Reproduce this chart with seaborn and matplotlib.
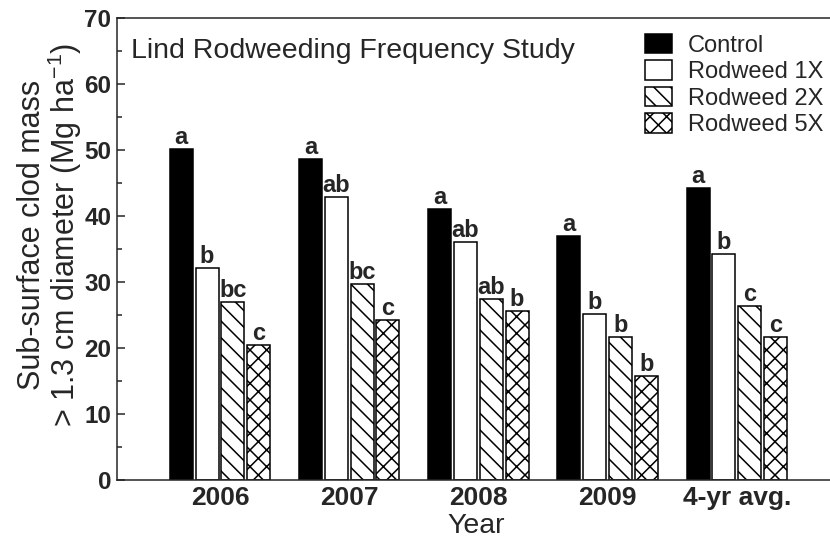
import matplotlib
matplotlib.use("Agg")
import matplotlib.pyplot as plt
from matplotlib.patches import Patch
from matplotlib.ticker import MultipleLocator
import seaborn as sns
import pandas as pd

years = ['2006', '2007', '2008', '2009', '4-yr avg.']
treatments = ['Control', 'Rodweed 1X', 'Rodweed 2X', 'Rodweed 5X']
control = [50.1, 48.6, 41.1, 37.0, 44.2]
rod1x = [32.1, 42.9, 36.1, 25.2, 34.2]
rod2x = [27.0, 29.7, 27.4, 21.7, 26.4]
rod5x = [20.5, 24.3, 25.6, 15.7, 21.6]
letters_control = ['a', 'a', 'a', 'a', 'a']
letters_1x = ['b', 'ab', 'ab', 'b', 'b']
letters_2x = ['bc', 'bc', 'ab', 'b', 'c']
letters_5x = ['c', 'c', 'b', 'b', 'c']

series = [control, rod1x, rod2x, rod5x]
letters = [letters_control, letters_1x, letters_2x, letters_5x]
rows = []
for t, vals in zip(treatments, series):
    for y, v in zip(years, vals):
        rows.append({'Year': y, 'Treatment': t, 'Mass': v})
df = pd.DataFrame(rows)

sns.set_style("ticks")
plt.rcParams['font.family'] = ['Liberation Sans', 'DejaVu Sans']
plt.rcParams['hatch.linewidth'] = 1.1
plt.rcParams['mathtext.default'] = 'regular'

fig = plt.figure(figsize=(8.3, 5.44), dpi=100)
ax = fig.add_axes([117/830, 64/544, 718/830, 462/544])

sns.barplot(data=df, x='Year', y='Mass', hue='Treatment', order=years,
            hue_order=treatments, palette=['black', 'white', 'white', 'white'],
            edgecolor='black', linewidth=1.1, width=0.8, gap=0.11,
            legend=False, ax=ax, errorbar=None, saturation=1)

hatches = [None, None, '\\\\', 'xx']
handles = []
for cont, h, lab, t in zip(ax.containers, hatches, letters, treatments):
    for p in cont:
        if h:
            p.set_hatch(h)
        p.set_edgecolor('black')
    ax.bar_label(cont, labels=lab, padding=0, fontsize=17, fontweight='bold')
    handles.append(Patch(facecolor=cont[0].get_facecolor(), edgecolor='black',
                         hatch=h, linewidth=1.1, label=t))

ax.set_ylim(0, 70)
ax.set_xlim(-0.797, 4.76)
ax.yaxis.set_major_locator(MultipleLocator(10))
ax.yaxis.set_minor_locator(MultipleLocator(5))
ax.tick_params(axis='y', which='major', direction='in', length=6, width=1.1,
               labelsize=17.5, pad=4)
ax.tick_params(axis='y', which='minor', direction='in', length=3.6, width=1.1)
ax.tick_params(axis='x', length=0, labelsize=19, pad=4)
for lbl in ax.get_xticklabels() + ax.get_yticklabels():
    lbl.set_fontweight('bold')

for s in ['left', 'bottom', 'top']:
    ax.spines[s].set_linewidth(1.1)
ax.spines['right'].set_visible(False)
ax.spines['top'].set_visible(True)

ax.set_ylabel('Sub-surface clod mass\n> 1.3 cm diameter (Mg ha$^{-1}$)',
              fontsize=22, linespacing=0.95)
ax.yaxis.set_label_coords(-0.046, 0.53)
ax.set_xlabel('Year', fontsize=20.5)
ax.xaxis.set_label_coords(0.5, -0.072)

ax.text(0.019, 0.913, 'Lind Rodweeding Frequency Study', transform=ax.transAxes,
        fontsize=20.5, va='baseline', ha='left')

ax.legend(handles=handles, loc='upper left', bbox_to_anchor=(0.735, 0.966),
          frameon=False, fontsize=17, handlelength=1.15, handleheight=0.9,
          labelspacing=0.15, handletextpad=0.68, borderaxespad=0, borderpad=0)

fig.savefig('out.png', dpi=100)
